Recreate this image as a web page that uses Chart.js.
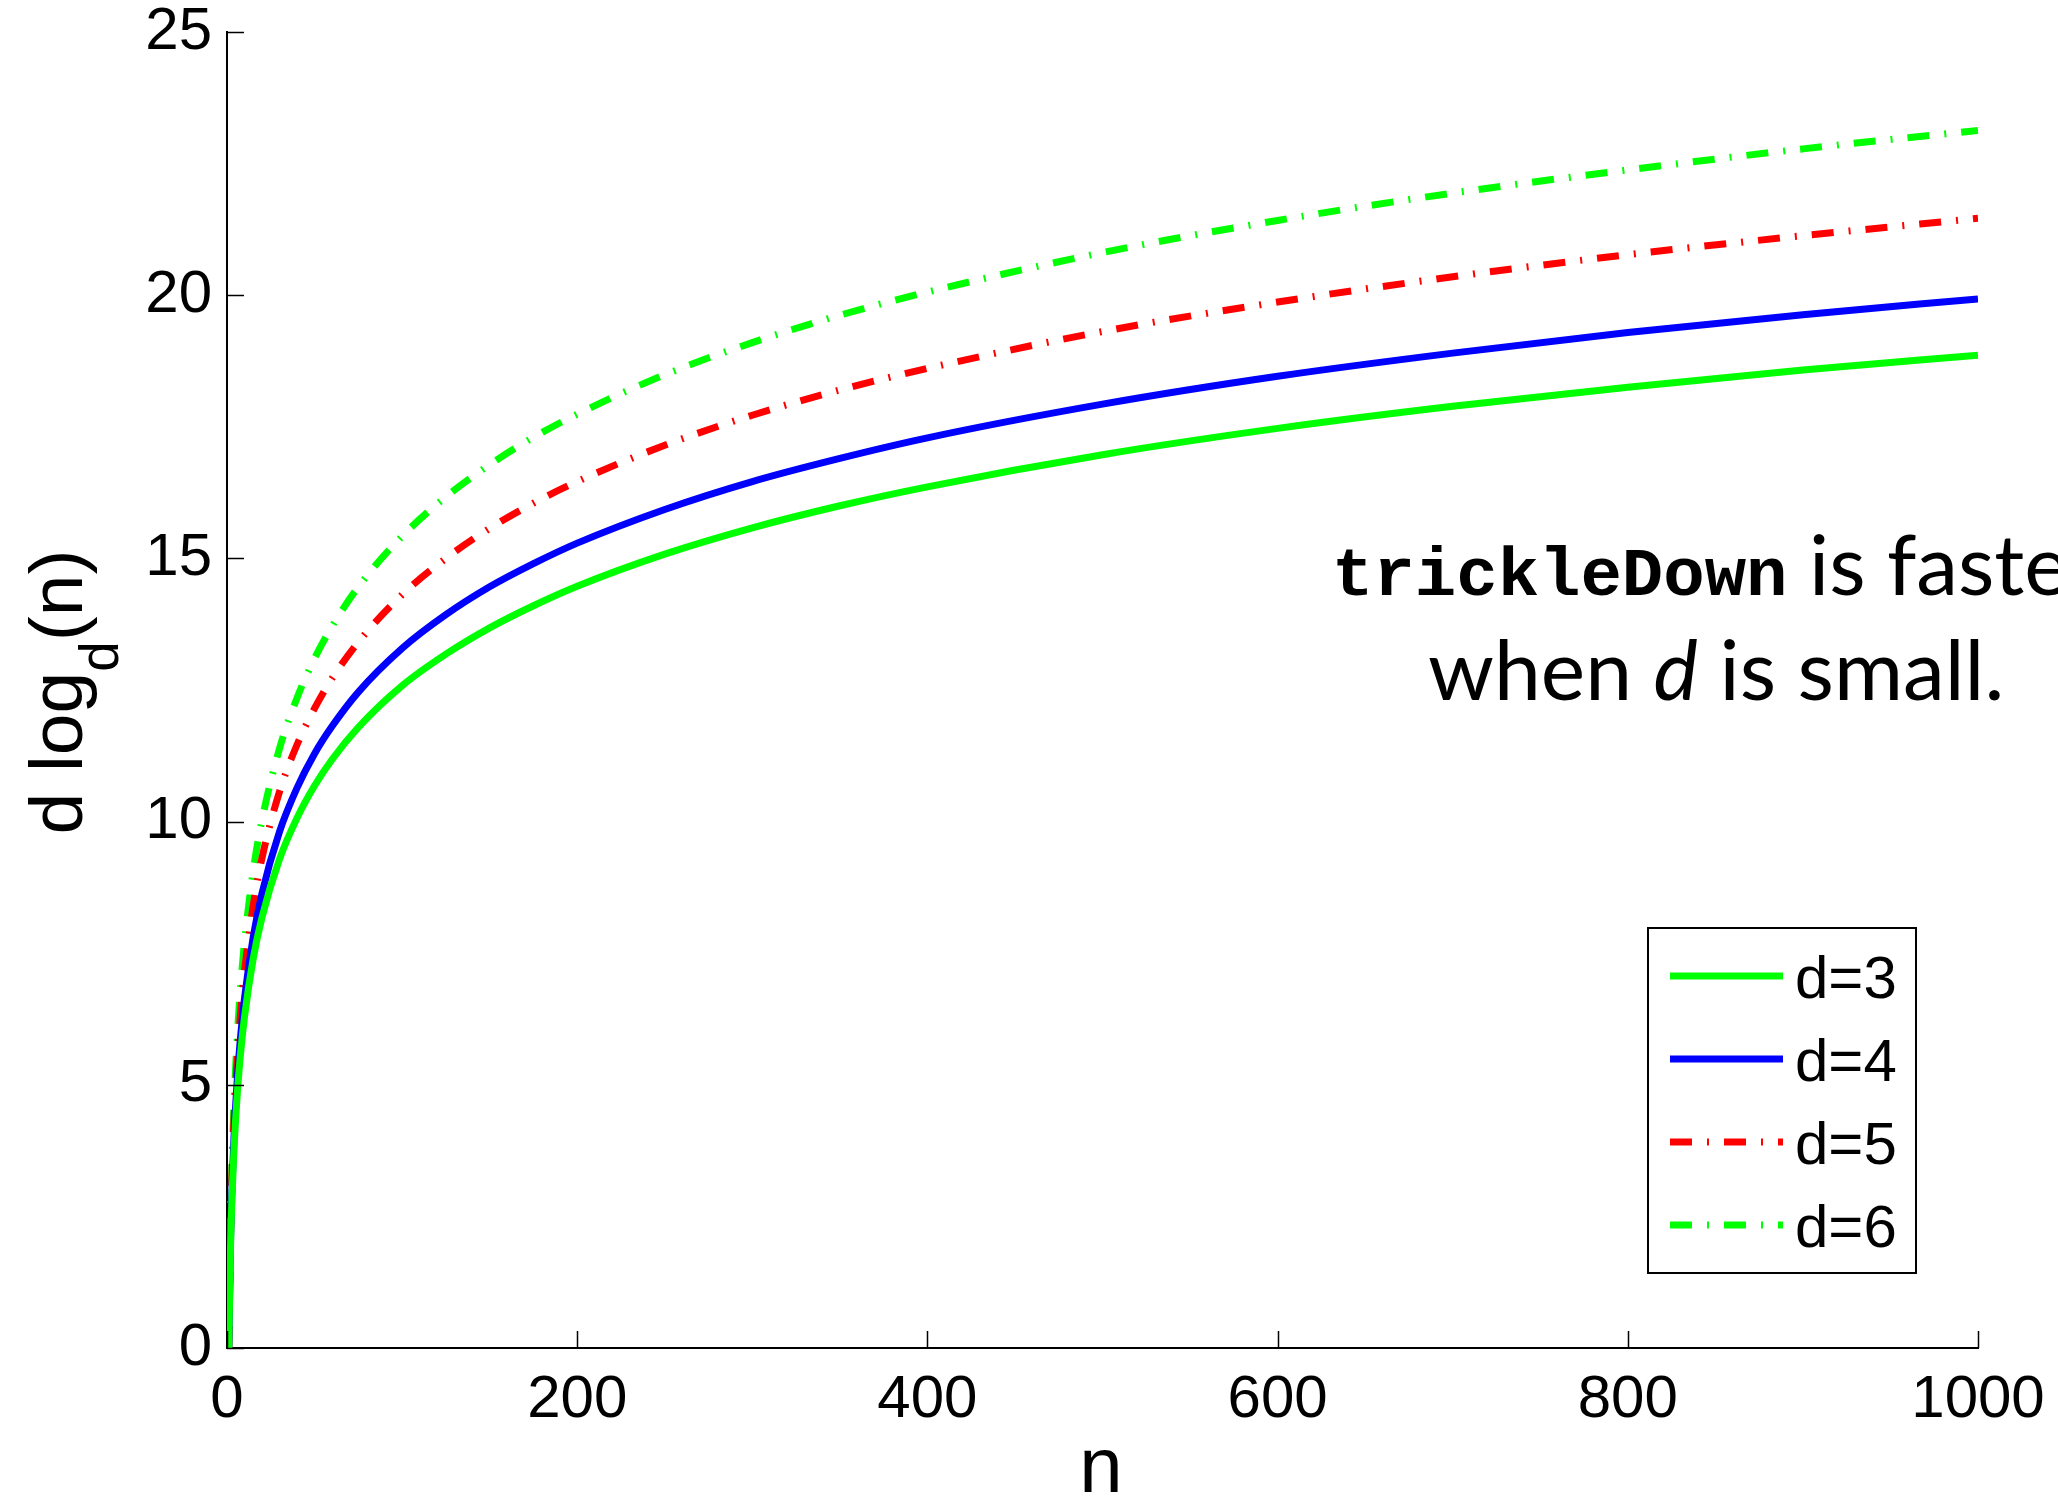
<!DOCTYPE html>
<html>
<head>
<meta charset="utf-8">
<script src="https://cdn.jsdelivr.net/npm/chart.js@4/dist/chart.umd.min.js"></script>
<style>
  html, body { margin: 0; padding: 0; background: #fff; }
  canvas { display: block; }
</style>
</head>
<body>
<canvas id="heapChart" width="2058" height="1497"></canvas>
<script>
// values
const nValues = [1, 2, 3, 4, 6, 8, 10, 15, 20, 30, 40, 50, 60, 75, 100, 125, 150, 175, 200, 250, 300, 350, 400, 500, 600, 700, 800, 900, 1000];
const costD3 = [0, 1.89, 3.0, 3.79, 4.89, 5.68, 6.29, 7.4, 8.18, 9.29, 10.07, 10.68, 11.18, 11.79, 12.58, 13.18, 13.68, 14.1, 14.47, 15.08, 15.58, 16.0, 16.36, 16.97, 17.47, 17.89, 18.25, 18.58, 18.86];
const costD4 = [0, 2.0, 3.17, 4.0, 5.17, 6.0, 6.64, 7.81, 8.64, 9.81, 10.64, 11.29, 11.81, 12.46, 13.29, 13.93, 14.46, 14.9, 15.29, 15.93, 16.46, 16.9, 17.29, 17.93, 18.46, 18.9, 19.29, 19.63, 19.93];
const costD5 = [0, 2.15, 3.41, 4.31, 5.57, 6.46, 7.15, 8.41, 9.31, 10.57, 11.46, 12.15, 12.72, 13.41, 14.31, 15.0, 15.57, 16.05, 16.46, 17.15, 17.72, 18.2, 18.61, 19.31, 19.87, 20.35, 20.77, 21.13, 21.46];
const costD6 = [0, 2.32, 3.68, 4.64, 6.0, 6.96, 7.71, 9.07, 10.03, 11.39, 12.35, 13.1, 13.71, 14.46, 15.42, 16.17, 16.78, 17.3, 17.74, 18.49, 19.1, 19.62, 20.06, 20.81, 21.42, 21.94, 22.38, 22.78, 23.13];
const legendLabels = ['d=3', 'd=4', 'd=5', 'd=6'];
const xTicks = [0, 200, 400, 600, 800, 1000];
const yTicks = [0, 5, 10, 15, 20, 25];

const dashDot = [22, 15, 2, 15];
const labelFont = '"Liberation Sans", Arial, Helvetica, sans-serif';

function toPoints(ys) {
    return nValues.map((n, i) => ({ x: n, y: ys[i] }));
}

// inward tick marks, MATLAB style
const insideTicks = {
    id: 'insideTicks',
    afterDatasetsDraw(chart) {
        const ctx = chart.ctx;
        const xs = chart.scales.x, ys = chart.scales.y;
        const area = chart.chartArea;
        ctx.save();
        ctx.strokeStyle = '#000';
        ctx.lineWidth = 1.5;
        ctx.beginPath();
        xTicks.forEach(v => {
            const px = Math.round(xs.getPixelForValue(v)) + 0.5;
            ctx.moveTo(px, area.bottom);
            ctx.lineTo(px, area.bottom - 17);
        });
        yTicks.forEach(v => {
            const py = Math.round(ys.getPixelForValue(v)) + 0.5;
            ctx.moveTo(area.left, py);
            ctx.lineTo(area.left + 17, py);
        });
        ctx.stroke();
        ctx.restore();
    }
};

// axis titles (y title has a subscript) and the note text
const textBits = {
    id: 'textBits',
    afterDraw(chart) {
        const ctx = chart.ctx;
        ctx.save();
        ctx.fillStyle = '#000';

        // y title: d log_d(n)
        const mainFont = '75px ' + labelFont;
        const subFont = '55px ' + labelFont;
        ctx.font = mainFont;
        const w1 = ctx.measureText('d log').width;
        const w3 = ctx.measureText('(n)').width;
        ctx.font = subFont;
        const w2 = ctx.measureText('d').width;
        const total = w1 + w2 + w3;
        ctx.translate(82, 692);
        ctx.rotate(-Math.PI / 2);
        ctx.textBaseline = 'alphabetic';
        ctx.textAlign = 'left';
        let x0 = -total / 2;
        ctx.font = mainFont;
        ctx.fillText('d log', x0, 0);
        ctx.font = subFont;
        ctx.fillText('d', x0 + w1, 36);
        ctx.font = mainFont;
        ctx.fillText('(n)', x0 + w1 + w2, 0);
        ctx.setTransform(1, 0, 0, 1, 0, 0);

        // x title
        ctx.font = '78px ' + labelFont;
        ctx.textAlign = 'center';
        ctx.fillText('n', 1101, 1492);

        // note
        ctx.textAlign = 'left';
        ctx.font = 'bold 69px "Courier New", "Nimbus Mono PS", "Nimbus Mono L", FreeMono, "Liberation Mono", monospace';
        ctx.fillText('trickleDown', 1332, 595);
        const codeW = ctx.measureText('trickleDown').width;
        ctx.font = '84px Lato, "Open Sans", sans-serif';
        ctx.fillText(' is faster', 1332 + codeW, 595);

        let lx = 1428;
        ctx.fillText('when ', lx, 700);
        lx += ctx.measureText('when ').width;
        ctx.font = 'italic 84px Lato, "Open Sans", sans-serif';
        ctx.fillText('d', lx, 700);
        lx += ctx.measureText('d').width;
        ctx.font = '84px Lato, "Open Sans", sans-serif';
        ctx.fillText(' is small.', lx, 700);
        ctx.restore();
    }
};

// boxed legend inside the plot
const boxLegend = {
    id: 'boxLegend',
    afterDraw(chart) {
        const ctx = chart.ctx;
        const left = 1648, top = 928, right = 1916, bottom = 1273;
        ctx.save();
        ctx.fillStyle = '#fff';
        ctx.fillRect(left, top, right - left, bottom - top);
        ctx.strokeStyle = '#000';
        ctx.lineWidth = 2;
        ctx.strokeRect(left, top, right - left, bottom - top);
        ctx.font = '60px ' + labelFont;
        ctx.textBaseline = 'alphabetic';
        ctx.textAlign = 'left';
        chart.data.datasets.forEach((ds, i) => {
            const rowY = 976 + i * 83;
            ctx.beginPath();
            ctx.strokeStyle = ds.borderColor;
            ctx.lineWidth = ds.borderWidth;
            ctx.setLineDash(ds.borderDash || []);
            ctx.moveTo(1670, rowY);
            ctx.lineTo(1783, rowY);
            ctx.stroke();
            ctx.setLineDash([]);
            ctx.fillStyle = '#000';
            ctx.fillText(legendLabels[i], 1795, rowY + 22);
        });
        ctx.restore();
    }
};

// keep the plot box fixed, ignore label overhang
function noOverhang(scale) {
    scale.paddingTop = 0;
    scale.paddingBottom = 0;
    scale.paddingLeft = 0;
    scale.paddingRight = 0;
}

const ctx = document.getElementById('heapChart').getContext('2d');
const chart = new Chart(ctx, {
    type: 'line',
    data: {
        datasets: [
            { label: legendLabels[0], data: toPoints(costD3), borderColor: '#00ff00', borderWidth: 7 },
            { label: legendLabels[1], data: toPoints(costD4), borderColor: '#0000ff', borderWidth: 7 },
            { label: legendLabels[2], data: toPoints(costD5), borderColor: '#ff0000', borderWidth: 7, borderDash: dashDot },
            { label: legendLabels[3], data: toPoints(costD6), borderColor: '#00ff00', borderWidth: 7, borderDash: dashDot }
        ]
    },
    options: {
        responsive: false,
        animation: false,
        devicePixelRatio: 1,
        elements: {
            point: { radius: 0, hoverRadius: 0 },
            line: { cubicInterpolationMode: 'monotone', fill: false, borderCapStyle: 'butt' }
        },
        layout: { padding: { left: 0, right: 80, top: 32, bottom: 0 } },
        plugins: {
            legend: { display: false },
            tooltip: { enabled: false }
        },
        scales: {
            x: {
                type: 'linear',
                min: 0,
                max: 1000,
                afterFit(scale) { scale.height = 149; noOverhang(scale); },
                afterBuildTicks(scale) { scale.ticks = xTicks.map(v => ({ value: v })); },
                grid: { display: false, drawTicks: false },
                border: { display: true, color: '#000', width: 2 },
                ticks: {
                    color: '#000', padding: 16, maxRotation: 0,
                    font: { family: labelFont, size: 60 },
                    callback: v => String(v)
                }
            },
            y: {
                type: 'linear',
                min: 0,
                max: 25,
                afterFit(scale) { scale.width = 227; noOverhang(scale); },
                afterBuildTicks(scale) { scale.ticks = yTicks.map(v => ({ value: v })); },
                grid: { display: false, drawTicks: false },
                border: { display: true, color: '#000', width: 2 },
                ticks: {
                    color: '#000', padding: 15,
                    font: { family: labelFont, size: 60 },
                    callback: v => String(v)
                }
            }
        }
    },
    plugins: [insideTicks, textBits, boxLegend]
});
</script>
</body>
</html>
